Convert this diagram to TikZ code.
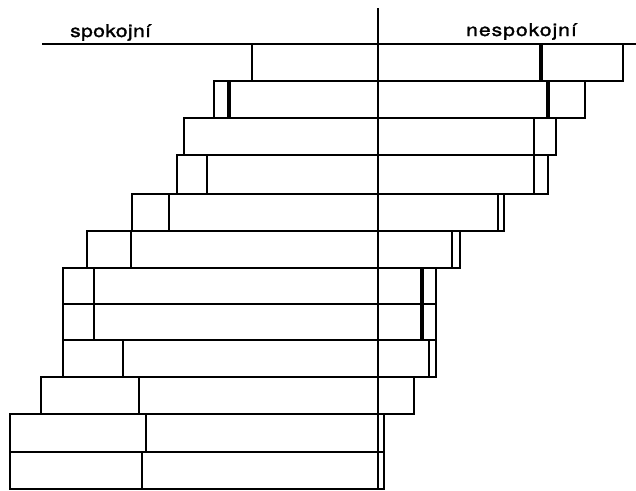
\documentclass[tikz,border=0pt]{standalone}
\usepackage{fontspec}
\setmainfont{TeX Gyre Heros}
\newfontfamily\lblA{TeX Gyre Heros}[LetterSpace=2,FakeBold=1.5]
\newfontfamily\lblB{TeX Gyre Heros}[LetterSpace=5,FakeBold=1.5]
\begin{document}
\begin{tikzpicture}[x=1pt,y=-1pt,
  bar/.style={line width=2.3pt, line cap=rect},
  divline/.style={line width=2.3pt},
  thickdiv/.style={line width=3.4pt},
  lbl/.style={anchor=base west, inner sep=0pt, xscale=1.2}]
\useasboundingbox (0,0) rectangle (636,490);
% bars: top/bottom/left/left inner/right divider/right
\foreach \t/\b/\l/\li/\rd/\r in {
  44/81/252/252/541/623,
  81/118/214/229/548/585,
  118/155/184/184/534/556,
  155/194/177/207/534/548,
  194/231/132/169/498/504,
  231/268/87/131/452/460,
  268/304/63/94/422/436,
  304/340/63/94/422/436,
  340/377/63/123/429/436,
  377/414/41/139/414/414,
  414/452/10/146/378/384,
  452/489/10/142/378/384}{
  \draw[bar] (\l,\t) rectangle (\r,\b);
  \draw[divline] (\li,\t) -- (\li,\b);
  \draw[divline] (\rd,\t) -- (\rd,\b);
}
\foreach \t/\b/\x in {81/118/229, 81/118/548, 44/81/541, 268/304/422, 304/340/422}{
  \draw[thickdiv] (\x,\t) -- (\x,\b);
}
\draw[bar] (43,44) -- (636,44);
\draw[line width=2.6pt] (378,8) -- (378,489);
\node[lbl, font=\lblA\fontsize{17.5}{19}\selectfont] (spok) at (70,37) {spokojní};
\node[lbl, font=\lblB\fontsize{17.5}{19}\selectfont] (nespok) at (466,36) {nespokojní};
\end{tikzpicture}
\end{document}
